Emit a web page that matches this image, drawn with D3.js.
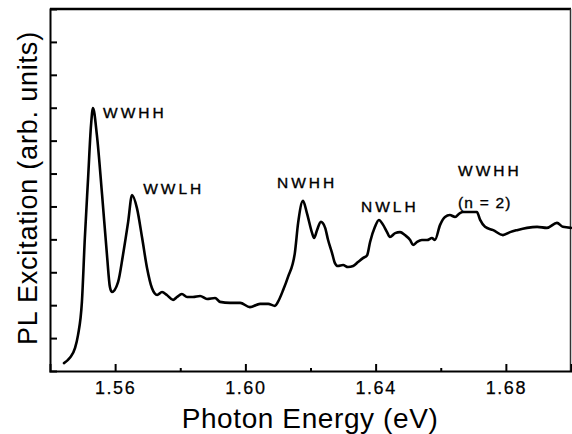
<!DOCTYPE html>
<html>
<head>
<meta charset="utf-8">
<script src="https://cdn.jsdelivr.net/npm/d3@7"></script>
<style>
  html, body { margin: 0; padding: 0; background: #fff; }
  svg { display: block; font-family: "Liberation Sans", Arial, Helvetica, sans-serif; }
</style>
</head>
<body>
<svg id="chart" width="572" height="434"></svg>
<script>
// Photon energy (eV)
const energy = [1.5443,1.5461,1.5477,1.5486,1.5498,1.5507,1.5517,1.5526,1.5532,1.5544,
  1.5560,1.5575,1.5584,1.5590,1.5609,1.5624,1.5640,1.5652,1.5667,1.5683,
  1.5698,1.5713,1.5729,1.5744,1.5759,1.5778,1.5790,1.5805,1.5821,1.5839,
  1.5861,1.5882,1.5907,1.5922,1.5953,1.5984,1.6014,1.6045,1.6070,1.6091,
  1.6100,1.6116,1.6131,1.6152,1.6162,1.6177,1.6189,1.6205,1.6211,1.6220,
  1.6232,1.6245,1.6254,1.6266,1.6275,1.6284,1.6300,1.6315,1.6331,1.6346,
  1.6361,1.6374,1.6383,1.6398,1.6410,1.6423,1.6435,1.6444,1.6460,1.6475,
  1.6490,1.6506,1.6515,1.6527,1.6542,1.6558,1.6573,1.6582,1.6598,1.6613,
  1.6628,1.6644,1.6659,1.6668,1.6690,1.6711,1.6721,1.6736,1.6761,1.6791,
  1.6813,1.6834,1.6865,1.6896,1.6926,1.6957,1.6975,1.7000];
// PL excitation intensity (arb. units)
const intensity = [0.24,0.40,0.70,1.09,2.10,4.04,5.86,7.47,7.99,7.17,
  5.35,3.52,2.55,2.40,2.70,3.52,4.53,5.35,4.95,4.04,
  3.13,2.52,2.31,2.40,2.31,2.16,2.25,2.34,2.25,2.25,
  2.28,2.19,2.22,2.10,2.07,2.07,1.94,2.04,2.04,1.98,
  2.10,2.46,2.86,3.59,4.50,5.17,4.80,4.19,4.04,4.28,
  4.53,4.35,3.98,3.59,3.28,3.19,3.22,3.16,3.19,3.31,
  3.43,3.52,3.92,4.38,4.59,4.44,4.22,4.07,4.19,4.22,
  4.13,3.98,3.83,3.92,3.98,3.98,4.04,3.98,4.44,4.68,
  4.74,4.68,4.80,4.83,4.83,4.83,4.59,4.38,4.28,4.13,
  4.22,4.28,4.35,4.38,4.35,4.50,4.38,4.35];

const xMajorTicks = [1.56, 1.60, 1.64, 1.68];
const xMinorTicks = [1.58, 1.62, 1.66];
const xTickLabels = ["1.56", "1.60", "1.64", "1.68"];
const yTicks = [1,2,3,4,5,6,7,8,9,10];

const peakNames = ["WWHH", "WWLH", "NWHH", "NWLH", "WWHH", "(n = 2)"];
const peakEnergy = [1.5563, 1.5686, 1.6097, 1.6355, 1.6653, 1.6653];
const peakLevel  = [7.69, 5.38, 5.56, 4.83, 5.93, 4.95];
const peakSpacing = [3, 3, 3, 3, 3, 1.2];

const xTitle = "Photon Energy (eV)";
const yTitle = "PL Excitation (arb. units)";

const svg = d3.select("#chart");
const mLeft = 50, mRight = 571, mTop = 9, mBottom = 371;

const x = d3.scaleLinear().domain([1.54, 1.70]).range([mLeft, mRight]);
const y = d3.scaleLinear().domain([0, 11]).range([mBottom, mTop]);

// frame
svg.append("line").attr("x1", mLeft).attr("x2", mRight).attr("y1", mTop).attr("y2", mTop)
  .attr("stroke", "#000").attr("stroke-width", 2.5);
svg.append("line").attr("x1", mRight - 0.5).attr("x2", mRight - 0.5).attr("y1", mTop).attr("y2", mBottom)
  .attr("stroke", "#333").attr("stroke-width", 1.5);

// x axis
const gx = svg.append("g").attr("transform", `translate(0,${mBottom})`)
  .call(d3.axisBottom(x).tickValues(xMajorTicks).tickSize(-7).tickPadding(10)
    .tickFormat((d, i) => xTickLabels[i]));
gx.select(".domain").attr("stroke", "#000").attr("stroke-width", 2);
gx.selectAll(".tick line").attr("stroke", "#000").attr("stroke-width", 2);
gx.selectAll(".tick text").attr("font-size", 18).attr("fill", "#000")
  .attr("stroke", "#000").attr("stroke-width", 0.25)
  .attr("letter-spacing", 1.5).attr("font-family", "Liberation Sans, Arial, sans-serif");

const gxm = svg.append("g").attr("transform", `translate(0,${mBottom})`)
  .call(d3.axisBottom(x).tickValues(xMinorTicks).tickSize(-3).tickFormat(""));
gxm.select(".domain").remove();
gxm.selectAll(".tick line").attr("stroke", "#000").attr("stroke-width", 2);

// y axis
const gy = svg.append("g").attr("transform", `translate(${mLeft},0)`)
  .call(d3.axisLeft(y).tickValues(yTicks).tickSize(-7).tickFormat(""));
gy.select(".domain").attr("stroke", "#000").attr("stroke-width", 2);
gy.selectAll(".tick line").attr("stroke", "#000").attr("stroke-width", 2);

// curve
const pts = energy.map((e, i) => [e, intensity[i]]);
const line = d3.line().x(d => x(d[0])).y(d => y(d[1])).curve(d3.curveMonotoneX);
svg.append("path").datum(pts).attr("d", line)
  .attr("fill", "none").attr("stroke", "#000").attr("stroke-width", 2.6)
  .attr("stroke-linejoin", "round").attr("stroke-linecap", "round");

// peak labels
svg.append("g").selectAll("text").data(peakNames).join("text")
  .attr("x", (d, i) => x(peakEnergy[i]))
  .attr("y", (d, i) => y(peakLevel[i]))
  .attr("font-size", 15.5).attr("letter-spacing", (d, i) => peakSpacing[i])
  .attr("fill", "#000").attr("stroke", "#000").attr("stroke-width", 0.35)
  .text(d => d);

// titles
svg.append("text").attr("x", 310).attr("y", 428).attr("text-anchor", "middle")
  .attr("font-size", 28).attr("letter-spacing", 0.6).attr("fill", "#000").text(xTitle);
svg.append("text").attr("transform", "translate(37,188) rotate(-90)")
  .attr("text-anchor", "middle").attr("font-size", 27).attr("letter-spacing", 0.8)
  .attr("fill", "#000").text(yTitle);
</script>
</body>
</html>
